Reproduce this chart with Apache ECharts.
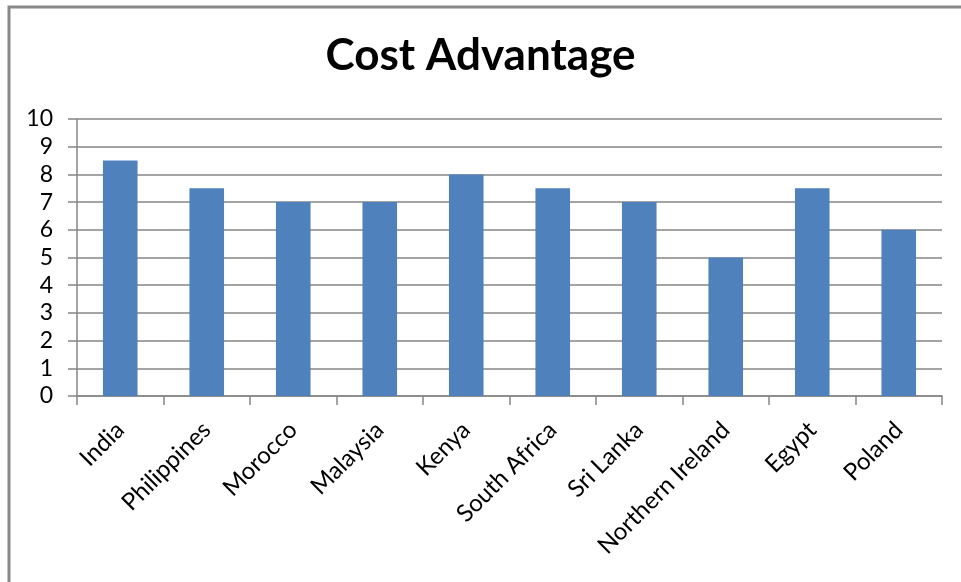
<!DOCTYPE html>
<html>
<head>
<meta charset="utf-8">
<script src="https://cdn.jsdelivr.net/npm/echarts@6/dist/echarts.min.js"></script>
<style>
  html, body { margin: 0; padding: 0; background: #fff; }
  #chart { width: 961px; height: 582px; }
</style>
</head>
<body>
<div id="chart"></div>
<script>
// Cost advantage score per location
const categories = ['India', 'Philippines', 'Morocco', 'Malaysia', 'Kenya', 'South Africa', 'Sri Lanka', 'Northern Ireland', 'Egypt', 'Poland'];
const scores = [8.5, 7.5, 7, 7, 8, 7.5, 7, 5, 7.5, 6];
const yTicks = { min: 0, max: 10, interval: 1 };

const chart = echarts.init(document.getElementById('chart'));
const font = 'Lato, "DejaVu Sans", sans-serif';

chart.setOption({
  animation: false,
  backgroundColor: '#fff',
  title: {
    text: 'Cost Advantage',
    left: 'center',
    top: 29,
    textStyle: { fontFamily: font, fontSize: 44, fontWeight: 'bold', color: '#000' }
  },
  graphic: [{
    type: 'rect',
    shape: { x: 9, y: 7, width: 1000, height: 700 },
    style: { fill: 'none', stroke: '#888', lineWidth: 3 },
    silent: true
  }],
  grid: { left: 77, right: 19, top: 119, bottom: 186, containLabel: false },
  xAxis: {
    type: 'category',
    data: categories,
    axisLine: { lineStyle: { color: '#868686', width: 1.5 } },
    axisTick: { show: true, length: 9, lineStyle: { color: '#868686', width: 1.5 } },
    axisLabel: {
      rotate: 45,
      interval: 0,
      margin: 30,
      fontFamily: font,
      fontSize: 24,
      color: '#000'
    }
  },
  yAxis: {
    type: 'value',
    min: yTicks.min,
    max: yTicks.max,
    interval: yTicks.interval,
    axisLine: { show: true, lineStyle: { color: '#868686', width: 1.5 } },
    axisTick: { show: true, length: 9, lineStyle: { color: '#868686', width: 1.5 } },
    axisLabel: { margin: 24, fontFamily: font, fontSize: 23, color: '#000' },
    splitLine: { lineStyle: { color: '#868686', width: 1.5 } }
  },
  series: [{
    type: 'bar',
    data: scores,
    barWidth: '40%',
    itemStyle: { color: '#4F81BD' }
  }]
});
</script>
</body>
</html>
